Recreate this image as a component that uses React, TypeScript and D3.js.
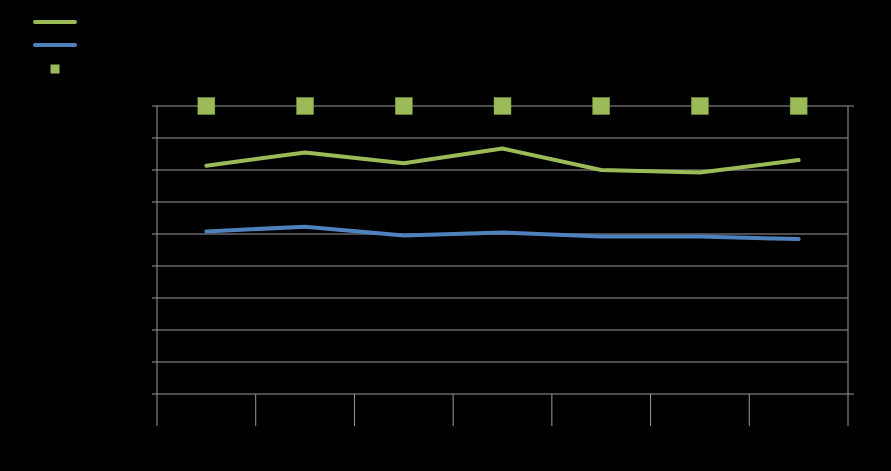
import React from 'react'
import * as d3 from 'd3'

const categories = ['1', '2', '3', '4', '5', '6', '7']
const greenValues = [71.3, 75.5, 72.1, 76.7, 70.0, 69.2, 73.1]
const blueValues = [50.8, 52.3, 49.5, 50.5, 49.2, 49.2, 48.4]
const markerValues = [1, 1, 1, 1, 1, 1, 1]
const leftTicks = [0, 10, 20, 30, 40, 50, 60, 70, 80, 90]
const rightTicks = [0, 1]

const W = 891
const H = 471
const GREEN = '#9BBB59'
const BLUE = '#4F81BD'
const GRID = '#9a9a9a'

export default function App() {
  const left = 157
  const right = 848
  const top = 106
  const bottom = 394
  const catBottom = 426

  const x = d3.scaleBand<string>().domain(categories).range([left, right]).padding(0)
  const y = d3.scaleLinear().domain([0, 90]).range([bottom, top])
  const y2 = d3.scaleLinear().domain([0, 1]).range([bottom, top])
  const cx = (c: string) => (x(c) ?? 0) + x.bandwidth() / 2

  const line = d3.line<number>()
    .x((_, i) => cx(categories[i]))
    .y((d) => y(d))

  const boundaries = categories.map((c) => x(c) ?? 0).concat([right])
  const sq = 17

  return (
    <svg
      width={W}
      height={H}
      style={{ position: 'fixed', left: 0, top: 0, background: '#000', display: 'block' }}
    >
      <rect x={0} y={0} width={W} height={H} fill="#000" />

      {/* gridlines + left ticks */}
      {leftTicks.map((t) => (
        <g key={t}>
          <line x1={left} x2={right} y1={y(t)} y2={y(t)} stroke={GRID} strokeWidth={1} />
          <line x1={left - 5} x2={left} y1={y(t)} y2={y(t)} stroke={GRID} strokeWidth={1} />
        </g>
      ))}

      {/* right axis ticks */}
      {rightTicks.map((t) => (
        <line key={t} x1={right} x2={right + 6} y1={y2(t)} y2={y2(t)} stroke={GRID} strokeWidth={1} />
      ))}

      {/* axes */}
      <line x1={left} x2={left} y1={top} y2={bottom} stroke={GRID} strokeWidth={1} />
      <line x1={right} x2={right} y1={top} y2={bottom} stroke={GRID} strokeWidth={1} />

      {/* category boundaries */}
      {boundaries.map((b, i) => (
        <line key={i} x1={b} x2={b} y1={bottom} y2={catBottom} stroke={GRID} strokeWidth={1} />
      ))}

      {/* series */}
      <path d={line(greenValues) ?? ''} fill="none" stroke={GREEN} strokeWidth={4} strokeLinejoin="round" strokeLinecap="round" />
      <path d={line(blueValues) ?? ''} fill="none" stroke={BLUE} strokeWidth={4} strokeLinejoin="round" strokeLinecap="round" />

      {markerValues.map((v, i) => (
        <rect
          key={i}
          x={cx(categories[i]) - sq / 2}
          y={y2(v) - sq / 2}
          width={sq}
          height={sq}
          fill={GREEN}
          stroke="#7f9a45"
          strokeWidth={0.5}
        />
      ))}

      {/* legend */}
      <line x1={35} x2={75} y1={22} y2={22} stroke={GREEN} strokeWidth={4} strokeLinecap="round" />
      <line x1={35} x2={75} y1={45} y2={45} stroke={BLUE} strokeWidth={4} strokeLinecap="round" />
      <rect x={50.5} y={64.5} width={9} height={9} fill={GREEN} />
    </svg>
  )
}
